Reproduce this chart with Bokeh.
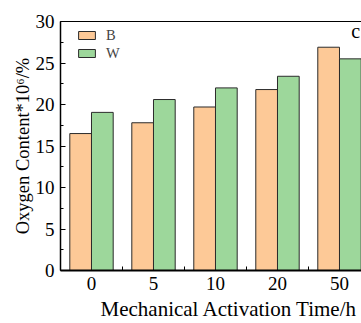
from bokeh.plotting import figure
from bokeh.models import (ColumnDataSource, FixedTicker, SingleIntervalTicker, LinearAxis,
                          Legend, LegendItem, Label, Range1d, Title)
from bokeh.transform import dodge
from bokeh.embed import file_html
from bokeh.resources import INLINE

times = ["0", "5", "10", "20", "50"]
b_values = [16.5, 17.8, 19.7, 21.8, 26.9]
w_values = [19.05, 20.6, 22.0, 23.4, 25.5]
x_title = "Mechanical Activation Time/h"
y_title = "Oxygen Content*10\u2076/%"

FONT = "Liberation Serif"

src = ColumnDataSource(dict(idx=list(range(len(times))), b=b_values, w=w_values))

p = figure(width=361, height=323, output_backend="svg", toolbar_location=None,
           x_range=Range1d(-0.5, 4.355), y_range=Range1d(0, 30),
           min_border_left=60, min_border_right=0, min_border_top=21, min_border_bottom=53)
p.outline_line_color = None
p.grid.grid_line_color = None
p.background_fill_color = "white"

rb = p.vbar(x=dodge("idx", -0.175, range=p.x_range), top="b", width=0.35, source=src,
            fill_color="#FDC997", line_color="#2b2b2b", line_width=1)
rw = p.vbar(x=dodge("idx", 0.175, range=p.x_range), top="w", width=0.35, source=src,
            fill_color="#9DD79B", line_color="#2b2b2b", line_width=1)

# x axis
xa = p.xaxis[0]
xa.ticker = FixedTicker(ticks=list(range(len(times))), minor_ticks=[0.5, 1.5, 2.5, 3.5])
xa.major_label_overrides = {i: t for i, t in enumerate(times)}
xa.major_tick_in = 0
xa.major_tick_out = 0
xa.minor_tick_in = 4
xa.minor_tick_out = 0
xa.axis_line_width = 2
xa.major_label_standoff = 6

# y axis
ya = p.yaxis[0]
ya.ticker = SingleIntervalTicker(interval=5, num_minor_ticks=2)
ya.major_tick_in = 5
ya.major_tick_out = 0
ya.minor_tick_in = 3
ya.minor_tick_out = 0
ya.axis_line_width = 1.5
ya.major_label_standoff = 6
ya.axis_label = y_title
ya.axis_label_standoff = 0
ya.axis_label_text_font_size = "18.5px"

for ax in (xa, ya):
    ax.major_label_text_font = FONT
    ax.major_label_text_font_size = "19px"
    ax.major_label_text_color = "black"
    ax.axis_label_text_font = FONT
    ax.axis_label_text_font_style = "normal"
    ax.axis_label_text_color = "black"
    ax.axis_line_color = "black"
    ax.major_tick_line_color = "black"
    ax.minor_tick_line_color = "black"

# x axis title, right-aligned like the reference
p.add_layout(Title(text=x_title, align="right", offset=4, text_font=FONT,
                   text_font_size="21px", text_font_style="normal", text_color="black",
                   standoff=5), "below")

# top border line
top = LinearAxis(ticker=FixedTicker(ticks=[]), major_tick_line_color=None,
                 minor_tick_line_color=None, major_label_text_font_size="0px",
                 axis_line_color="black", axis_line_width=1.2,
                 major_tick_in=0, major_tick_out=0, major_label_standoff=0)
p.add_layout(top, "above")

legend = Legend(items=[LegendItem(label="B", renderers=[rb]), LegendItem(label="W", renderers=[rw])],
                location=(16, 208), padding=2, margin=0, spacing=0,
                glyph_width=21, glyph_height=10, label_height=18, label_standoff=9,
                label_text_font=FONT, label_text_font_size="14.5px",
                border_line_color=None, background_fill_alpha=0)
p.add_layout(legend)

p.add_layout(Label(x=4.19, y=27.5, text="c", text_font=FONT, text_font_size="20px",
                   text_baseline="bottom", text_align="left", text_color="black"))

open("out.html", "w").write(file_html(p, INLINE))
